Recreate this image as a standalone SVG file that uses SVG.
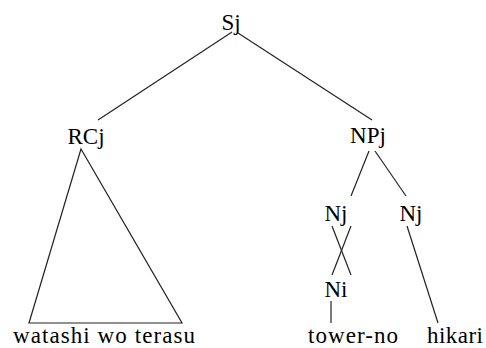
<svg xmlns="http://www.w3.org/2000/svg" width="486" height="348" viewBox="0 0 486 348">
<style>
line,polygon{stroke:#222;stroke-width:1.2;fill:none;}
.t{font-size:23px;fill:#000;text-anchor:middle;}
.b{font-size:23px;fill:#000;}
</style>
<rect width="486" height="348" fill="#fff"/>
<g id="connectors">
<line x1="232" y1="32" x2="98" y2="120"/>
<line x1="238" y1="33" x2="372" y2="120"/>
<line x1="369" y1="151" x2="351" y2="196"/>
<line x1="375" y1="151" x2="406" y2="196"/>
<line x1="332" y1="226" x2="351" y2="275"/>
<line x1="351" y1="226" x2="332" y2="275"/>
<line x1="331" y1="301" x2="331" y2="323"/>
<line x1="407" y1="226" x2="438" y2="323"/>
</g>
<g font-family="Liberation Serif, Times New Roman, serif">
<g id="Sj"><text class="t" x="231" y="30">Sj</text></g>
<g id="RCj"><text class="t" x="86" y="144">RCj</text></g>
<g id="triangle"><polygon points="81,149 29,323 182,323"/></g>
<g id="NPj"><text class="t" x="368" y="143">NPj</text></g>
<g id="Nj1"><text class="t" x="336" y="221">Nj</text></g>
<g id="Nj2"><text class="t" x="411" y="221">Nj</text></g>
<g id="Ni"><text class="t" x="336" y="297">Ni</text></g>
<g id="watashi"><text class="b" x="13" y="343" textLength="182">watashi wo terasu</text></g>
<g id="tower"><text class="b" x="308" y="343" textLength="90">tower-no</text></g>
<g id="hikari"><text class="b" x="427" y="343" textLength="56">hikari</text></g>
</g>
</svg>
